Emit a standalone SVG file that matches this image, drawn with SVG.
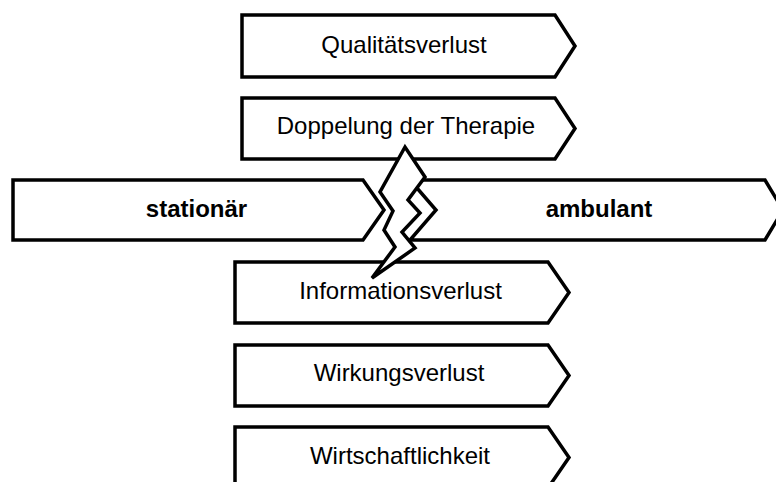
<svg xmlns="http://www.w3.org/2000/svg" width="776" height="482" viewBox="0 0 776 482">
<style>
.box{fill:#fff;stroke:#000;stroke-width:3.5;stroke-linejoin:miter}
.t{font-family:"Liberation Sans",Arial,Helvetica,sans-serif;font-size:24px;fill:#000;text-anchor:middle}
.b{font-weight:bold}
</style>
<rect width="776" height="482" fill="#fff"/>
<g id="qualitaetsverlust">
<polygon class="box" points="242,15 555,15 575,46 555,77 242,77"/>
<text class="t" x="404" y="53">Qualitätsverlust</text>
</g>
<g id="doppelung">
<polygon class="box" points="242,98 555,98 575,128.5 555,159 242,159"/>
<text class="t" x="406" y="133.5">Doppelung der Therapie</text>
</g>
<g id="stationaer">
<polygon class="box" points="13,180 363,180 384,210 363,240 13,240"/>
<text class="t b" x="196.5" y="217">stationär</text>
</g>
<g id="ambulant">
<polygon class="box" points="410,180 765,180 783,210 765,240 410,240 436,210"/>
<text class="t b" x="599" y="217">ambulant</text>
</g>
<g id="informationsverlust">
<polygon class="box" points="235,262 548,262 569,292.5 548,323 235,323"/>
<text class="t" x="400.5" y="298.5">Informationsverlust</text>
</g>
<g id="wirkungsverlust">
<polygon class="box" points="235,345 548,345 569,375.5 548,406 235,406"/>
<text class="t" x="399" y="381">Wirkungsverlust</text>
</g>
<g id="wirtschaftlichkeit">
<polygon class="box" points="235,427 548,427 569,457.5 548,488 235,488"/>
<text class="t" x="400" y="463.5">Wirtschaftlichkeit</text>
</g>
<g id="connectors">
<polygon id="bruch" class="box" points="405,147 380,192 393,211 384,230 395,247 372,278 415,248 402,232 420,213 408,200 425,177"/>
</g>
</svg>
